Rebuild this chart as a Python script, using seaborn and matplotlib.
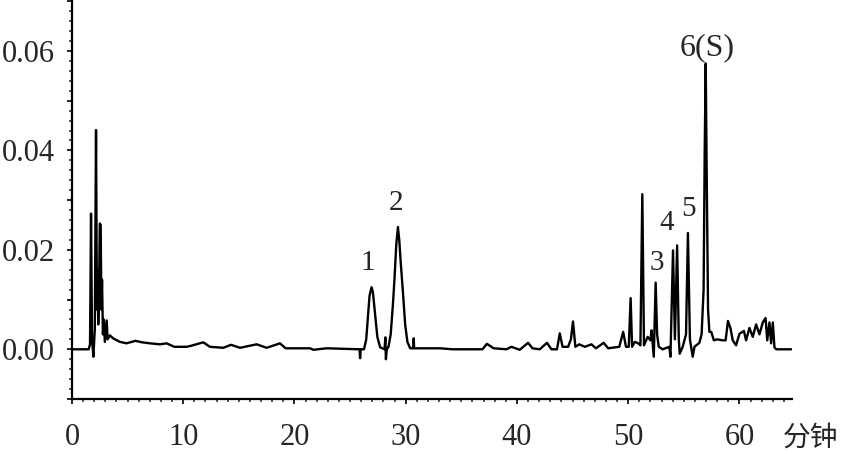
import numpy as np
import pandas as pd
import matplotlib
matplotlib.use("Agg")
import matplotlib.pyplot as plt
from matplotlib.ticker import MultipleLocator, FuncFormatter
import seaborn as sns

t_front = [0.0, 1.5, 1.62, 1.71, 1.8, 1.92, 2.05, 2.16, 2.24, 2.3, 2.36, 2.43, 2.5, 2.58,
           2.64, 2.7, 2.78, 2.86, 2.95, 3.05, 3.12, 3.2, 3.4, 3.7, 4.3, 4.9, 5.7, 6.3, 7.0,
           7.9, 8.5, 9.2, 10.3, 10.7, 11.8, 12.4, 13.6, 14.3, 15.1, 16.6, 17.5, 18.7, 19.2,
           21.4, 21.7, 22.9, 25.6]
a_front = [0.0, 0.0, 0.001, 0.0273, 0.002, -0.0015, 0.004, 0.0441, 0.008, 0.016, 0.005,
           0.012, 0.0253, 0.0250, 0.008, 0.014, 0.003, 0.006, 0.0015, 0.004, 0.0058, 0.002,
           0.0028, 0.0022, 0.0015, 0.0012, 0.0017, 0.0014, 0.0012, 0.001, 0.0012, 0.0005,
           0.0005, 0.0007, 0.0014, 0.0005, 0.0003, 0.0009, 0.0003, 0.001, 0.0003, 0.0012,
           0.0002, 0.0002, -0.0001, 0.0002, 0.0]

t_peaks12 = [25.85, 25.9, 25.95, 26.25, 26.45, 26.6, 26.75, 26.93, 27.05, 27.25, 27.45,
             27.7, 28.1, 28.17, 28.22, 28.3, 28.45, 28.65, 28.85, 29.0, 29.15, 29.3, 29.42,
             29.55, 29.75, 29.95, 30.15, 30.4, 30.68, 30.72, 30.76]
a_peaks12 = [0.0, -0.0018, 0.0, 0.0, 0.002, 0.0065, 0.0108, 0.0125, 0.0115, 0.007, 0.0025,
             0.0004, 0.0, 0.0024, -0.002, 0.0, 0.0005, 0.003, 0.009, 0.0145, 0.021, 0.0246,
             0.022, 0.0175, 0.0115, 0.005, 0.0015, 0.0002, 0.0002, 0.0022, 0.0002]

t_tail = [31.5, 33.1, 34.2, 36.9, 37.3, 37.9, 39.05, 39.5, 40.25, 41.0, 41.4, 42.05, 42.7,
          43.1, 43.6, 43.85, 44.1, 44.6, 44.85, 45.04, 45.25, 45.6, 46.1, 46.7, 47.1, 47.8,
          48.2, 49.2, 49.55, 49.8, 50.05, 50.22, 50.35, 50.6, 50.9, 51.1, 51.27, 51.42,
          51.75, 52.0, 52.1, 52.3, 52.47, 52.6, 52.75, 53.1, 53.7, 53.8, 54.03, 54.2, 54.4,
          54.55, 54.63, 54.9, 55.2, 55.37, 55.55, 55.8, 55.96, 56.4, 56.6, 56.78, 56.88,
          56.97, 57.06, 57.18, 57.3, 57.47, 57.7, 58.0, 58.5, 58.76, 58.97, 59.2, 59.4,
          59.7, 60.0, 60.4, 60.6, 60.9, 61.2, 61.5, 61.8, 62.1, 62.35, 62.5, 62.7, 62.85,
          63.0, 63.15, 63.3, 64.65]
a_tail = [0.0002, 0.0002, 0.0, 0.0, 0.0011, 0.0002, 0.0, 0.0005, -0.0001, 0.0013, 0.0002,
          0.0, 0.0013, 0.0, 0.0, 0.0032, 0.0005, 0.0005, 0.002, 0.0056, 0.0005, 0.001,
          0.0005, 0.001, 0.0002, 0.0013, 0.0002, 0.0005, 0.0035, 0.0005, 0.0005, 0.0103,
          0.0005, 0.0015, 0.0012, 0.0008, 0.0312, 0.0008, 0.0025, 0.0018, 0.0038, -0.0015,
          0.0134, 0.003, 0.0005, 0.0, 0.0005, -0.0015, 0.0199, 0.002, 0.0209, 0.002,
          -0.0009, 0.0005, 0.003, 0.0234, 0.002, -0.0015, 0.0005, 0.0013, 0.003, 0.012,
          0.04, 0.0575, 0.035, 0.008, 0.0035, 0.0035, 0.0018, 0.002, 0.0018, 0.0018, 0.0057,
          0.0042, 0.0018, 0.0008, 0.0031, 0.0037, 0.0018, 0.0043, 0.0025, 0.005, 0.003,
          0.0054, 0.0063, 0.0018, 0.0054, 0.0012, 0.0054, 0.0004, 0.0, 0.0]

# etiquetas de picos
peak_labels = ["1", "2", "3", "4", "5", "6(S)"]
label_t = [26.6, 29.17, 52.53, 53.5, 55.43, 57.1]
label_a = [0.0174, 0.0294, 0.0173, 0.0254, 0.0282, 0.0606]

df = pd.DataFrame({"t": t_front + t_peaks12 + t_tail,
                   "a": a_front + a_peaks12 + a_tail})

sns.set_style("ticks")
plt.rcParams['font.family'] = ['Liberation Serif', 'Noto Sans CJK SC']

fig = plt.figure(figsize=(8.42, 4.54), dpi=100)
ax = fig.add_axes([72 / 842, 55 / 454, (791.7 - 72) / 842, (399 - 1.3) / 454])

sns.lineplot(data=df, x="t", y="a", ax=ax, color="black", linewidth=1.7,
             sort=False, estimator=None)

for lab, tx, ty in zip(peak_labels, label_t, label_a):
    fs = 23 if lab == "6(S)" else 21
    ax.text(tx, ty, lab, ha="center", va="center", fontsize=fs)

ax.set_xlim(0, 64.7)
ax.set_ylim(-0.01, 0.07)
ax.set_xlabel("")
ax.set_ylabel("")

ax.xaxis.set_major_locator(MultipleLocator(10))
ax.xaxis.set_minor_locator(MultipleLocator(1))
ax.yaxis.set_major_locator(MultipleLocator(0.01))
ax.yaxis.set_minor_locator(MultipleLocator(0.002))
ax.yaxis.set_major_formatter(FuncFormatter(
    lambda v, p: "%.2f" % v if round(v / 0.01) % 2 == 0 and v > -0.005 and v < 0.065 else ""))

ax.tick_params(axis="both", which="major", labelsize=22, length=3.5, width=1.2,
               direction="out", color="black")
ax.tick_params(axis="both", which="minor", length=2.2, width=1.1, direction="out")
ax.tick_params(axis="x", which="major", pad=14)
ax.tick_params(axis="y", which="major", pad=9)

for side in ["top", "right"]:
    ax.spines[side].set_visible(False)
for side in ["left", "bottom"]:
    ax.spines[side].set_linewidth(1.6)
    ax.spines[side].set_color("black")

fig.text(783 / 842, 1 - 438 / 454, "分钟", ha="left", va="center",
         fontsize=20, family=['Noto Sans CJK SC'])

fig.savefig("out.png", dpi=100)
